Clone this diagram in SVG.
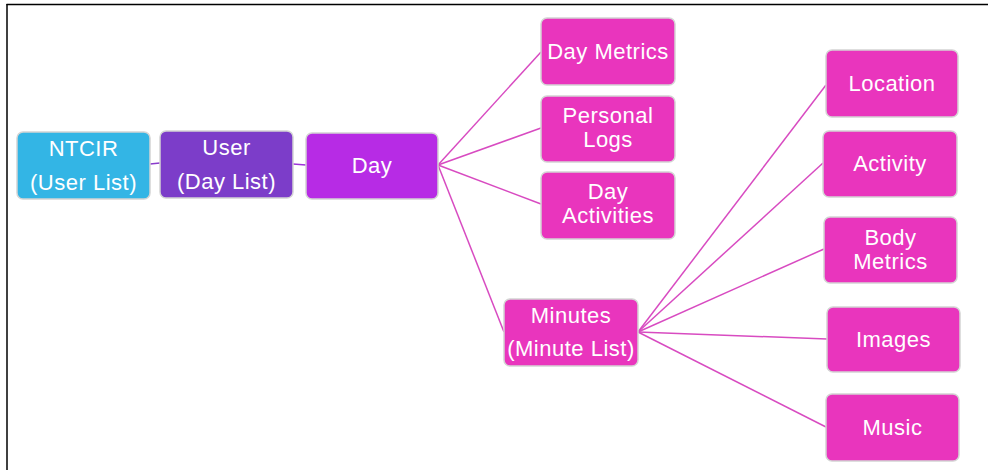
<svg xmlns="http://www.w3.org/2000/svg" width="988" height="470" viewBox="0 0 988 470">
<style>
.box{stroke:#d4d4d4;stroke-width:1.5}
.pink{fill:#E935BD}
.t{font-family:"Liberation Sans",Arial,sans-serif;font-size:22px;letter-spacing:0.5px;fill:#ffffff;text-anchor:middle}
.c{fill:none;stroke:#D84BC1;stroke-width:1.5}
</style>
<rect width="988" height="470" fill="#ffffff"/>
<g id="frame" stroke="#000" stroke-width="1.5" fill="none">
<line x1="6.5" y1="4.5" x2="988" y2="4.5"/>
<line x1="7" y1="4" x2="7" y2="470"/>
</g>
<g id="connectors">
<line x1="150" y1="164" x2="160" y2="163" stroke="#8A3CCB" stroke-width="1.5"/>
<line x1="293" y1="164" x2="306" y2="165" stroke="#9E34D8" stroke-width="1.5"/>
<line class="c" x1="438" y1="165" x2="541" y2="52"/>
<line class="c" x1="438" y1="165" x2="541" y2="128"/>
<line class="c" x1="438" y1="165" x2="541" y2="204"/>
<line class="c" x1="438" y1="165" x2="504" y2="332"/>
<line class="c" x1="638" y1="332" x2="826" y2="85"/>
<line class="c" x1="638" y1="332" x2="823" y2="163"/>
<line class="c" x1="638" y1="332" x2="824" y2="249"/>
<line class="c" x1="638" y1="332" x2="827" y2="339"/>
<line class="c" x1="638" y1="332" x2="826" y2="427"/>
</g>
<g id="ntcir">
<rect class="box" x="17" y="132" width="133" height="67" rx="6" fill="#33B5E5"/>
<text class="t" x="83.5" y="156">NTCIR</text>
<text class="t" x="83.5" y="190">(User List)</text>
</g>
<g id="user">
<rect class="box" x="160" y="131" width="133" height="67" rx="6" fill="#7C3DC9"/>
<text class="t" x="226.5" y="155">User</text>
<text class="t" x="226.5" y="189">(Day List)</text>
</g>
<g id="day">
<rect class="box" x="306" y="133" width="132" height="66" rx="6" fill="#B72BE5"/>
<text class="t" x="372" y="173">Day</text>
</g>
<g id="day-metrics">
<rect class="box pink" x="541" y="18" width="134" height="67" rx="6"/>
<text class="t" x="608" y="59">Day Metrics</text>
</g>
<g id="personal-logs">
<rect class="box pink" x="541" y="96" width="134" height="66" rx="6"/>
<text class="t" x="608" y="123">Personal</text>
<text class="t" x="608" y="147">Logs</text>
</g>
<g id="day-activities">
<rect class="box pink" x="541" y="172" width="134" height="67" rx="6"/>
<text class="t" x="608" y="199">Day</text>
<text class="t" x="608" y="223">Activities</text>
</g>
<g id="minutes">
<rect class="box pink" x="504" y="299" width="134" height="67" rx="6"/>
<text class="t" x="571" y="323">Minutes</text>
<text class="t" x="571" y="356">(Minute List)</text>
</g>
<g id="location">
<rect class="box pink" x="826" y="50" width="132" height="67" rx="6"/>
<text class="t" x="892" y="91">Location</text>
</g>
<g id="activity">
<rect class="box pink" x="823" y="131" width="134" height="66" rx="6"/>
<text class="t" x="890" y="171">Activity</text>
</g>
<g id="body-metrics">
<rect class="box pink" x="824" y="217" width="133" height="66" rx="6"/>
<text class="t" x="890.5" y="245">Body</text>
<text class="t" x="890.5" y="269">Metrics</text>
</g>
<g id="images">
<rect class="box pink" x="827" y="307" width="133" height="65" rx="6"/>
<text class="t" x="893.5" y="347">Images</text>
</g>
<g id="music">
<rect class="box pink" x="826" y="394" width="133" height="67" rx="6"/>
<text class="t" x="892.5" y="435">Music</text>
</g>
</svg>
